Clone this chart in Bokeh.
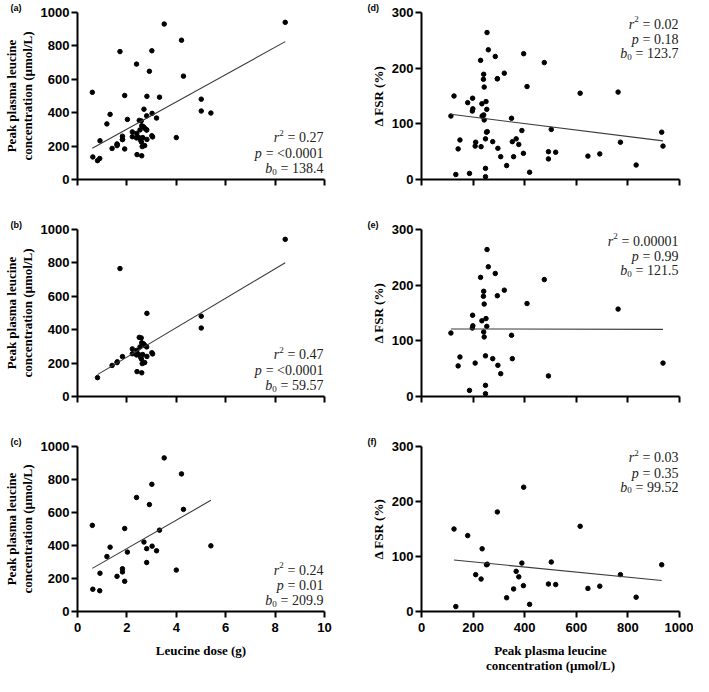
import numpy as np
from bokeh.plotting import figure
from bokeh.models import Range1d, Label, FixedTicker, CustomJSTickFormatter
from bokeh.layouts import gridplot
from bokeh.embed import file_html
from bokeh.resources import INLINE

# ---- Data: leucine dose (g) vs peak plasma leucine (umol/L) ----
dose_b = [0.81, 1.40, 1.60, 1.61, 1.72, 1.82, 2.22, 2.22, 2.39, 2.40, 2.41, 2.47, 2.50, 2.53,
          2.55, 2.58, 2.59, 2.60, 2.60, 2.62, 2.64, 2.67, 2.72, 2.73, 2.80, 2.81, 2.81, 3.01,
          3.04, 5.01, 5.01, 8.41]
peak_b = [113, 186, 203, 208, 766, 239, 285, 256, 249, 276, 149, 253, 354, 297,
          236, 351, 224, 322, 142, 197, 251, 316, 203, 306, 297, 498, 240, 262,
          255, 481, 410, 941]
dose_c = [0.60, 0.62, 0.90, 0.91, 1.19, 1.32, 1.60, 1.82, 1.82, 1.91, 1.91, 2.02, 2.39,
          2.69, 2.80, 2.80, 2.91, 3.01, 3.02, 3.20, 3.32, 3.51, 4.00, 4.21, 4.29, 5.40]
peak_c = [522, 135, 126, 232, 333, 390, 213, 259, 240, 503, 183, 360, 691,
          421, 381, 297, 648, 771, 396, 368, 493, 931, 251, 834, 619, 398]
dose_a = dose_b + dose_c
peak_a = peak_b + peak_c

# ---- Data: peak plasma leucine (umol/L) vs delta FSR (%) ----
conc_e = [114, 142, 149, 186, 198, 197, 199, 208, 229, 234, 240, 241, 241, 243, 243, 248,
          248, 248, 250, 253, 254, 259, 276, 286, 294, 296, 307, 321, 349, 352, 409, 476,
          492, 762, 936]
fsr_e = [114, 55, 71, 11, 146, 123, 127, 60, 214, 136, 180, 189, 116, 166, 107, 73,
         20, 5, 140, 126, 264, 233, 68, 221, 181, 56, 41, 191, 110, 68, 167, 210,
         37, 157, 60]
conc_f = [126, 133, 179, 210, 231, 235, 252, 255, 294, 330, 357, 367, 377, 389, 395, 396,
          419, 492, 503, 520, 615, 645, 691, 771, 832, 931]
fsr_f = [150, 9, 138, 67, 59, 114, 85, 86, 181, 25, 41, 73, 63, 88, 47, 226,
         13, 50, 90, 49, 155, 42, 46, 67, 26, 85]
conc_d = conc_e + conc_f
fsr_d = fsr_e + fsr_f

panel_letters = ["(a)", "(b)", "(c)", "(d)", "(e)", "(f)"]
r2_text = ["0.27", "0.47", "0.24", "0.02", "0.00001", "0.03"]
p_text = ["<0.0001", "<0.0001", "0.01", "0.18", "0.99", "0.35"]
b0_values = [138.4, 59.57, 209.9, 123.7, 121.5, 99.52]
b0_text = ["138.4", "59.57", "209.9", "123.7", "121.5", "99.52"]
slopes = [81.7, 88.2, 85.9, -0.058, -0.001, -0.0465]

dose_ticks = [0, 2, 4, 6, 8, 10]
peak_ticks = [0, 200, 400, 600, 800, 1000]
fsr_ticks = [0, 100, 200, 300]

# ---- Layout constants ----
LEFT_W, RIGHT_W = 345, 348
FRAME_LW, FRAME_RW = 256, 258
FRAME_H = 168
TOP = 11
STAT_SIZE = 14
SMALL = 9
TICK_FONT = "Liberation Sans"
SERIF = "Liberation Serif"


def text_w(s, size):
    tbl = {'.': 0.25, ' ': 0.25, '=': 0.564, '<': 0.564}
    return sum(tbl.get(ch, 0.5) for ch in s) * size


def make_panel(idx, xs, ys, xmax, ymax, xticks, yticks, ylabel, xlabel, left_col):
    show_x = xlabel is not None
    bottom = 63 if show_x else 38
    width = LEFT_W if left_col else RIGHT_W
    bl = 68 if left_col else 76
    fw = FRAME_LW if left_col else FRAME_RW
    br = width - bl - fw
    height = TOP + FRAME_H + bottom
    p = figure(width=width, height=height, x_range=Range1d(0, xmax), y_range=Range1d(0, ymax),
               output_backend="svg", toolbar_location=None,
               min_border_left=bl, min_border_right=br, min_border_top=TOP, min_border_bottom=bottom)
    p.outline_line_color = None
    p.grid.visible = False
    p.background_fill_color = "white"
    p.border_fill_color = "white"

    # panel letter as a left-aligned title pushed into the left border
    p.title.text = panel_letters[idx]
    p.title.align = "left"
    p.title.offset = -67 if left_col else -54
    p.title.standoff = 0
    p.title.text_font = TICK_FONT
    p.title.text_font_style = "bold"
    p.title.text_font_size = "9px"
    p.title.text_color = "black"

    for ax in (p.xaxis[0], p.yaxis[0]):
        ax.axis_line_width = 2
        ax.axis_line_color = "black"
        ax.major_tick_line_width = 2
        ax.major_tick_line_color = "black"
        ax.major_tick_out = 6
        ax.major_tick_in = 0
        ax.minor_tick_out = 0
        ax.minor_tick_in = 0
        ax.major_label_text_font = TICK_FONT
        ax.major_label_text_font_style = "bold"
        ax.major_label_text_font_size = "13px"
        ax.major_label_text_color = "black"
        ax.axis_label_text_font = SERIF
        ax.axis_label_text_font_style = "bold"
        ax.axis_label_text_font_size = "13px"
        ax.axis_label_text_color = "black"
        ax.axis_label_text_line_height = 1.05

    p.xaxis.ticker = FixedTicker(ticks=xticks)
    p.yaxis.ticker = FixedTicker(ticks=yticks)
    p.yaxis.major_label_standoff = 2
    p.yaxis.axis_label_standoff = 3
    p.yaxis.axis_label = ylabel
    if show_x:
        p.xaxis.axis_label = xlabel
        p.xaxis.major_label_standoff = 5
        p.xaxis.axis_label_standoff = 8
    else:
        p.xaxis.formatter = CustomJSTickFormatter(code="return ''")
        p.xaxis.major_label_standoff = 0

    # points
    p.scatter(xs, ys, size=4.5, color="black", line_color="black")

    # regression line from intercept and slope over the data's x range
    x0, x1 = min(xs), max(xs)
    lx = np.array([x0, x1])
    ly = b0_values[idx] + slopes[idx] * lx
    p.line(lx, ly, line_color="#3a3a3a", line_width=1.1)

    # statistics text (right aligned)
    px_y = ymax / FRAME_H
    if left_col:
        fracs = [0.25, 0.155, 0.065]
    else:
        fracs = [0.931, 0.839, 0.753]
    off = -1
    gap = 0.28 * STAT_SIZE
    lines = [("r", "2", "= " + r2_text[idx], 5),
             ("p", None, "= " + p_text[idx], 0),
             ("b", "0", "= " + b0_text[idx], -3)]
    for (var, small, roman, shift), fr in zip(lines, fracs):
        yv = fr * ymax
        p.add_layout(Label(x=xmax, y=yv, text=roman, x_offset=off, text_align="right",
                           text_baseline="alphabetic", text_font=SERIF,
                           text_font_size=f"{STAT_SIZE}px", text_color="#222222"))
        xo = off - text_w(roman, STAT_SIZE) - gap
        if small is not None:
            p.add_layout(Label(x=xmax, y=yv + shift * px_y, text=small, x_offset=xo,
                               text_align="right", text_baseline="alphabetic", text_font=SERIF,
                               text_font_size=f"{SMALL}px", text_color="#222222"))
            xo -= text_w(small, SMALL)
        p.add_layout(Label(x=xmax, y=yv, text=var, x_offset=xo, text_align="right",
                           text_baseline="alphabetic", text_font=SERIF,
                           text_font_style="italic",
                           text_font_size=f"{STAT_SIZE}px", text_color="#222222"))
    return p


ylab_peak = "Peak plasma leucine\nconcentration (\u00b5mol/L)"
ylab_fsr = "\u0394 FSR (%)"

pa = make_panel(0, dose_a, peak_a, 10, 1000, dose_ticks, peak_ticks, ylab_peak, None, True)
pb = make_panel(1, dose_b, peak_b, 10, 1000, dose_ticks, peak_ticks, ylab_peak, None, True)
pc = make_panel(2, dose_c, peak_c, 10, 1000, dose_ticks, peak_ticks, ylab_peak,
                "Leucine dose (g)", True)
pd = make_panel(3, conc_d, fsr_d, 1000, 300, peak_ticks, fsr_ticks, ylab_fsr, None, False)
pe = make_panel(4, conc_e, fsr_e, 1000, 300, peak_ticks, fsr_ticks, ylab_fsr, None, False)
pf = make_panel(5, conc_f, fsr_f, 1000, 300, peak_ticks, fsr_ticks, ylab_fsr,
                "Peak plasma leucine\nconcentration (\u00b5mol/L)", False)

grid = gridplot([[pa, pd], [pb, pe], [pc, pf]], toolbar_location=None)

open("out.html", "w").write(file_html(grid, INLINE))
